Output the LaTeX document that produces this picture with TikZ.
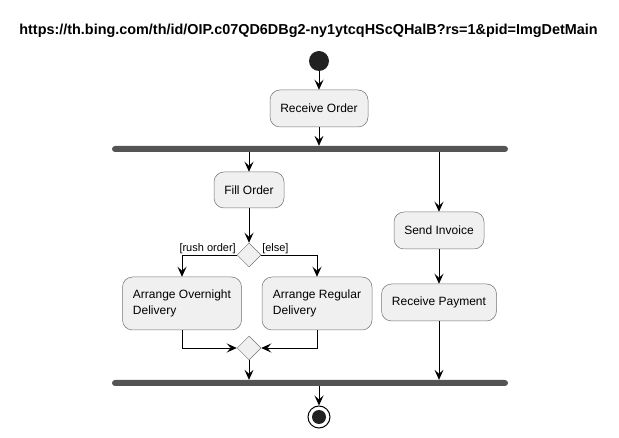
\documentclass[tikz,border=0pt]{standalone}
\usepackage{fontspec}
\setmainfont{Liberation Sans}
\usetikzlibrary{arrows.meta,shapes.geometric}

\begin{document}
\begin{tikzpicture}[x=1pt,y=-1pt,
		act/.style={draw=black!55, fill=black!6, line width=0.5pt, rounded corners=10pt, inner sep=0pt, align=left, font=\fontsize{12}{15.5}\selectfont},
		bar/.style={fill=black!67, rounded corners=3pt, minimum width=396pt, minimum height=6pt, inner sep=0pt},
		gate/.style={diamond, draw=black!55, fill=black!6, line width=0.5pt, minimum size=24pt, inner sep=0pt},
		guard/.style={font=\fontsize{11}{13}\selectfont, inner sep=0.8pt},
		flow/.style={-{Stealth[length=10pt,width=9pt,inset=4pt]}, line width=0.8pt}]
			\useasboundingbox (0,0) rectangle (619,438);
			\node (url) at (308.5,31) {\bfseries\fontsize{14.4}{16}\selectfont https://th.bing.com/th/id/OIP.c07QD6DBg2-ny1ytcqHScQHalB?rs=1\&pid=ImgDetMain};
			% start and end
			\node[circle, fill=black!87, minimum size=20pt, inner sep=0pt] (start) at (319,61) {};
			\node[circle, draw, line width=1pt, fill=white, minimum size=22pt, inner sep=0pt] (stop) at (319,417) {};
			\fill[black!87] (stop.center) circle (7);
			% actions
			\node[act, minimum width=98pt, minimum height=37pt] (recv) at (319,108.5) {Receive Order};
			\node[bar] (fork) at (310,149) {};
			\node[act, minimum width=70pt, minimum height=36pt] (fill) at (249,190) {Fill Order};
			\node[gate] (split) at (249,255) {};
			\node[guard, anchor=south east] at (split.west) {[rush order]};
			\node[guard, anchor=south west] at (split.east) {[else]};
			\node[act, minimum width=119pt, minimum height=53pt] (night) at (182,303.5) {Arrange Overnight\\Delivery};
			\node[act, minimum width=110pt, minimum height=53pt] (regular) at (317,303.5) {Arrange Regular\\Delivery};
			\node[gate] (merge) at (249,348) {};
			\node[act, minimum width=90pt, minimum height=37pt] (invoice) at (439,230.5) {Send Invoice};
			\node[act, minimum width=115pt, minimum height=37pt] (payment) at (439,302.5) {Receive Payment};
			\node[bar] (join) at (310,383) {};
			% connectors
			\draw[flow] (start) -- (recv);
			\draw[flow] (recv) -- (recv.south |- fork.north);
			\draw[flow] (fork.south -| fill.north) -- (fill);
			\draw[flow] (fork.south -| invoice.north) -- (invoice);
			\draw[flow] (fill) -- (split);
			\draw[flow] (split.west) -| (night.north);
			\draw[flow] (split.east) -| (regular.north);
			\draw[flow] (night.south) |- (merge.west);
			\draw[flow] (regular.south) |- (merge.east);
			\draw[flow] (merge) -- (merge.south |- join.north);
			\draw[flow] (invoice) -- (payment);
			\draw[flow] (payment) -- (payment.south |- join.north);
			\draw[flow] (join.south -| stop.north) -- (stop);
		\end{tikzpicture}
\end{document}
